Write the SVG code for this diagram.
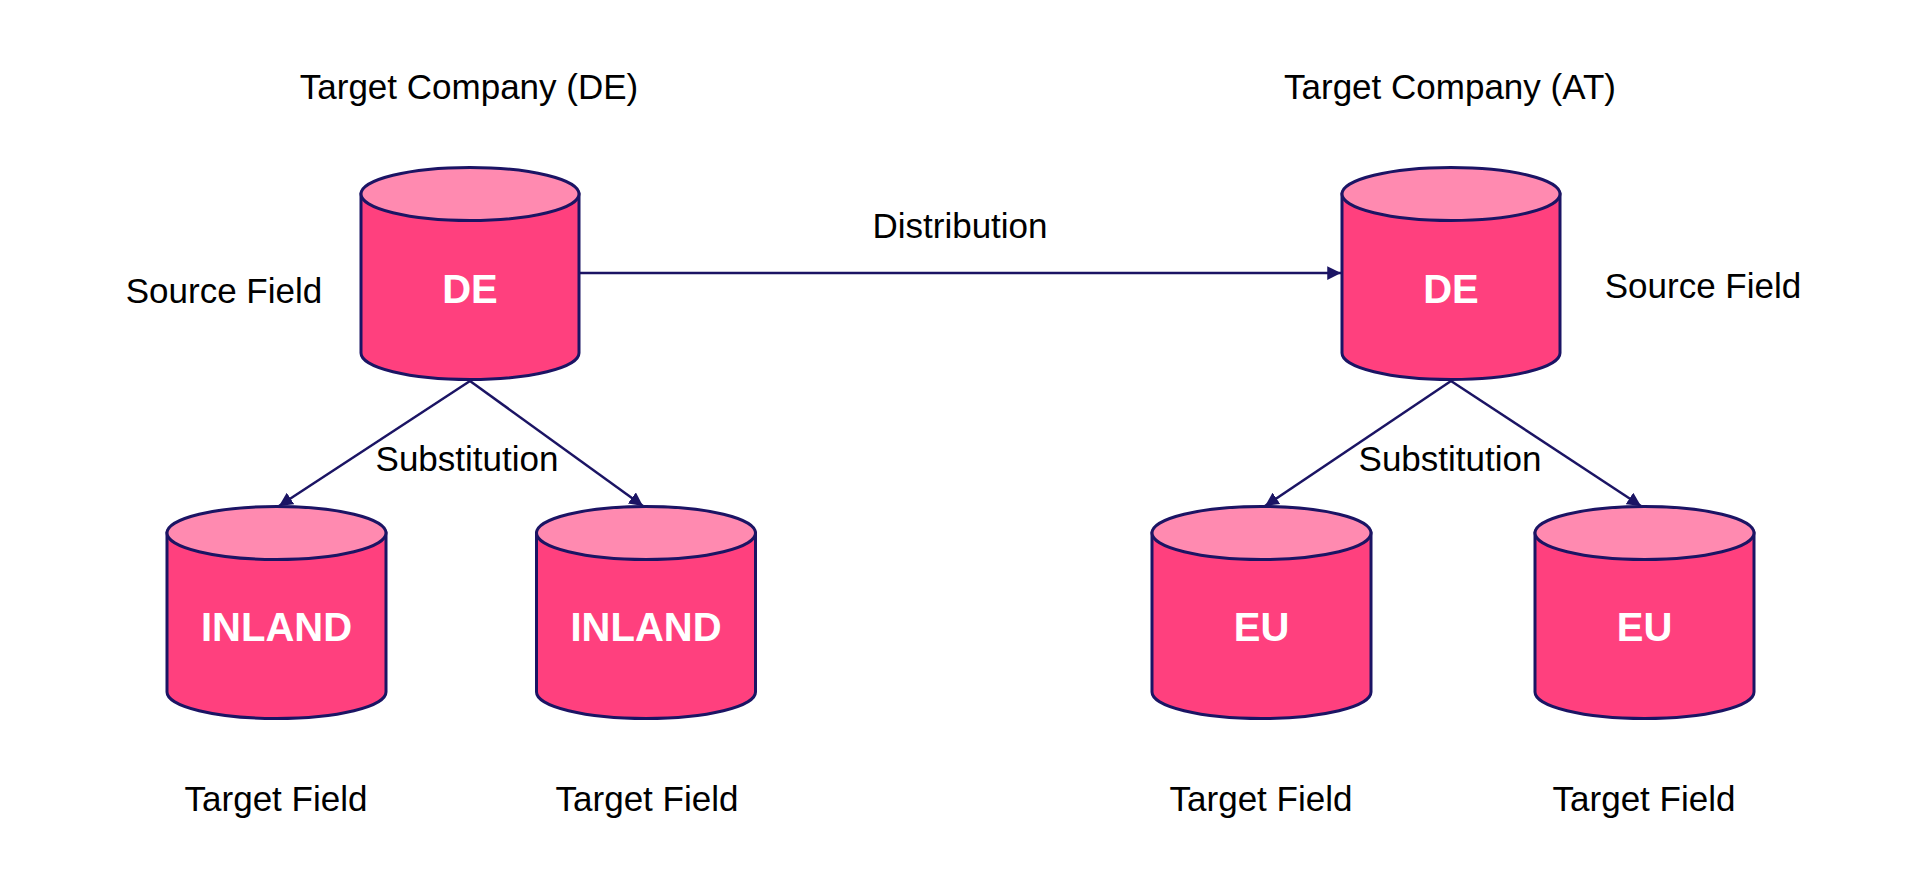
<svg xmlns="http://www.w3.org/2000/svg" width="1924" height="894" viewBox="0 0 1924 894">
<defs>
<style>
.body{fill:#FF407E;stroke:#1B1464;stroke-width:3}
.top{fill:#FF8AB0;stroke:#1B1464;stroke-width:3}
.lbl{font-family:"Liberation Sans",Arial,sans-serif;font-size:35px;fill:#000}
.name{font-family:"Liberation Sans",Arial,sans-serif;font-size:40px;font-weight:bold;fill:#fff;text-anchor:middle}
.edge{stroke:#1B1464;stroke-width:2.5;fill:none}
</style>
<marker id="arr" viewBox="0 0 10 10" refX="10" refY="5" markerWidth="5.5" markerHeight="5.5" markerUnits="strokeWidth" orient="auto">
<path d="M0,0 L10,5 L0,10 Z" fill="#1B1464"/>
</marker>
</defs>
<rect width="1924" height="894" fill="#fff"/>

<g id="connectors">
<line class="edge" x1="579" y1="273" x2="1341" y2="273" marker-end="url(#arr)"/>
<line class="edge" x1="470" y1="381" x2="279" y2="506" marker-end="url(#arr)"/>
<line class="edge" x1="470" y1="381" x2="643" y2="506" marker-end="url(#arr)"/>
<line class="edge" x1="1451" y1="381" x2="1265" y2="506" marker-end="url(#arr)"/>
<line class="edge" x1="1451" y1="381" x2="1641" y2="506" marker-end="url(#arr)"/>
</g>

<g id="labels">
<text class="lbl" x="469" y="99" text-anchor="middle">Target Company (DE)</text>
<text class="lbl" x="1450" y="99" text-anchor="middle">Target Company (AT)</text>
<text class="lbl" x="224" y="303" text-anchor="middle">Source Field</text>
<text class="lbl" x="1703" y="298" text-anchor="middle">Source Field</text>
<text class="lbl" x="960" y="238" text-anchor="middle">Distribution</text>
<text class="lbl" x="467" y="471" text-anchor="middle">Substitution</text>
<text class="lbl" x="1450" y="471" text-anchor="middle">Substitution</text>
<text class="lbl" x="276" y="811" text-anchor="middle">Target Field</text>
<text class="lbl" x="647" y="811" text-anchor="middle">Target Field</text>
<text class="lbl" x="1261" y="811" text-anchor="middle">Target Field</text>
<text class="lbl" x="1644" y="811" text-anchor="middle">Target Field</text>
</g>

<g id="node-de-source">
<path class="body" d="M361,194 V353 A109,26.5 0 0 0 579,353 V194 Z"/>
<ellipse class="top" cx="470" cy="194" rx="109" ry="26.5"/>
<text class="name" x="470" y="303">DE</text>
</g>

<g id="node-at-source">
<path class="body" d="M1342,194 V353 A109,26.5 0 0 0 1560,353 V194 Z"/>
<ellipse class="top" cx="1451" cy="194" rx="109" ry="26.5"/>
<text class="name" x="1451" y="303">DE</text>
</g>

<g id="node-inland-1">
<path class="body" d="M167,533 V692 A109.5,26.5 0 0 0 386,692 V533 Z"/>
<ellipse class="top" cx="276.5" cy="533" rx="109.5" ry="26.5"/>
<text class="name" x="276.5" y="641">INLAND</text>
</g>

<g id="node-inland-2">
<path class="body" d="M536.5,533 V692 A109.5,26.5 0 0 0 755.5,692 V533 Z"/>
<ellipse class="top" cx="646" cy="533" rx="109.5" ry="26.5"/>
<text class="name" x="646" y="641">INLAND</text>
</g>

<g id="node-eu-1">
<path class="body" d="M1152,533 V692 A109.5,26.5 0 0 0 1371,692 V533 Z"/>
<ellipse class="top" cx="1261.5" cy="533" rx="109.5" ry="26.5"/>
<text class="name" x="1261.5" y="641">EU</text>
</g>

<g id="node-eu-2">
<path class="body" d="M1535,533 V692 A109.5,26.5 0 0 0 1754,692 V533 Z"/>
<ellipse class="top" cx="1644.5" cy="533" rx="109.5" ry="26.5"/>
<text class="name" x="1644.5" y="641">EU</text>
</g>
</svg>
